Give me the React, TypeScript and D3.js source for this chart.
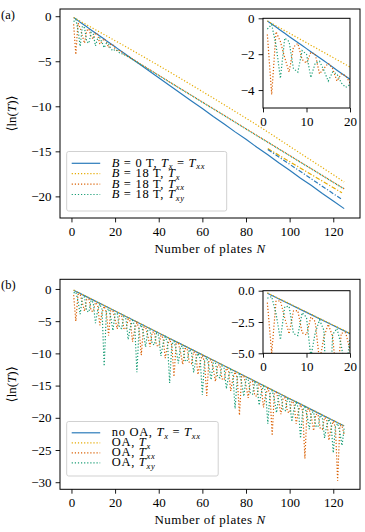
import React, { useEffect, useRef } from "react";
import * as d3 from "d3";

type Seg = { t: string; it?: boolean; sub?: boolean };
type Line = { xs: number[]; ys: number[]; color: string; dash?: string };

// ---- panel (a): B = 0 T against B = 18 T ----
const platesA = [
  1, 2, 3, 4, 5, 6, 7, 8, 9, 10, 11, 12, 13, 14, 15, 16, 17, 18, 19, 20,
  21, 22, 23, 24, 25, 26, 27, 28, 29, 30, 35, 40, 45, 50, 55, 60, 65, 70,
  75, 80, 85, 90, 95, 100, 105, 110, 115, 120, 125,
];
const b0A = [
  -0.15, -0.32, -0.49, -0.66, -0.83, -1.01, -1.18, -1.35, -1.52, -1.69,
  -1.86, -2.03, -2.2, -2.37, -2.54, -2.72, -2.89, -3.06, -3.23, -3.4,
  -3.57, -3.74, -3.91, -4.08, -4.25, -4.43, -4.6, -4.77, -4.94, -5.11,
  -5.97, -6.84, -7.68, -8.55, -9.41, -10.24, -11.13, -11.96, -12.84, -13.67,
  -14.55, -15.38, -16.27, -17.09, -17.98, -18.8, -19.69, -20.51, -21.36,
];
const b18TxA = [
  -0.15, -0.28, -0.42, -0.55, -0.69, -0.82, -0.96, -1.09, -1.23, -1.36,
  -1.5, -1.63, -1.77, -1.9, -2.04, -2.17, -2.31, -2.44, -2.58, -2.72,
  -2.85, -2.99, -3.12, -3.26, -3.4, -3.53, -3.67, -3.81, -3.95, -4.08,
  -4.78, -5.48, -6.19, -6.91, -7.63, -8.36, -9.09, -9.83, -10.57, -11.32,
  -12.08, -12.85, -13.64, -14.44, -15.23, -16.02, -16.8, -17.6, -18.4,
];
const b18TxxA = [
  -0.9, -4.25, -0.75, -1.3, -2.2, -3.0, -1.6, -1.4, -2.3, -2.5,
  -1.9, -2.0, -3.1, -2.8, -2.5, -2.8, -3.5, -3.1, -3.2, -3.6,
  -3.9, -3.8, -3.95, -4.2, -4.35, -4.45, -4.6, -4.75, -4.9, -5.05,
  -5.8, -6.55, -7.3, -8.05, -8.78, -9.52, -10.27, -11.0, -11.75, -12.5,
  -13.23, -13.97, -14.72, -15.45, -16.2, -16.93, -17.68, -18.42, -19.15,
];
const b18TxyA = [
  -0.6, -0.35, -1.5, -3.35, -1.1, -1.3, -2.8, -3.0, -1.8, -2.0,
  -3.3, -2.5, -2.4, -2.9, -3.5, -3.0, -3.1, -3.6, -3.85, -3.7,
  -3.8, -4.05, -4.15, -4.25, -4.4, -4.5, -4.65, -4.8, -4.95, -5.1,
  -5.83, -6.57, -7.32, -8.06, -8.8, -9.55, -10.29, -11.03, -11.77, -12.52,
  -13.26, -14.0, -14.74, -15.48, -16.22, -16.96, -17.7, -18.44, -19.18,
];
// straight fits over the long-chain end
const fitPlatesA = [90, 124];
const fitB18A = [-14.7, -19.6];
const fitB0A = [-14.8, -20.35];

// ---- panel (b): without and with optical activity ----
const platesB = [
  1, 5, 10, 15, 20, 25, 30, 35, 40, 45, 50, 55, 60, 65, 70, 75, 80, 85, 90,
  95, 100, 105, 110, 115, 120, 125,
];
const noOaB = [
  -0.2, -0.88, -1.73, -2.58, -3.43, -4.28, -5.13, -5.98, -6.83, -7.68, -8.53,
  -9.38, -10.23, -11.08, -11.93, -12.78, -13.63, -14.48, -15.33, -16.18,
  -17.03, -17.88, -18.73, -19.58, -20.43, -21.28,
];
const oaTxB = [
  -0.17, -0.85, -1.7, -2.55, -3.4, -4.25, -5.1, -5.95, -6.8, -7.66, -8.51,
  -9.36, -10.21, -11.06, -11.91, -12.76, -13.61, -14.46, -15.31, -16.16,
  -17.01, -17.86, -18.71, -19.56, -20.41, -21.26,
];
// one value per plate, N = 1 ... 125
const oaTxxB = [
  -0.95, -5.0, -0.84, -0.81, -2.18, -3.45, -1.62, -1.59, -3.36, -3.53,
  -2.1, -2.47, -5.64, -3.71, -2.68, -3.65, -7.22, -3.39, -3.36, -4.73,
  -6.2, -4.17, -4.14, -6.11, -6.28, -4.65, -5.02, -8.19, -6.26, -5.23,
  -6.2, -10.27, -5.94, -5.91, -7.28, -8.95, -6.72, -6.69, -8.76, -8.93,
  -7.2, -7.57, -10.74, -8.81, -7.78, -8.75, -13.62, -8.49, -8.46, -9.83,
  -11.7, -9.27, -9.24, -11.41, -11.58, -9.75, -10.12, -13.29, -11.36, -10.33,
  -11.3, -16.6, -11.04, -11.01, -12.38, -14.35, -11.82, -11.79, -13.96, -14.13,
  -12.3, -12.67, -15.84, -13.91, -12.88, -13.85, -19.6, -13.59, -13.56, -14.93,
  -16.9, -14.37, -14.34, -16.51, -16.68, -14.85, -15.22, -18.39, -16.46, -15.43,
  -16.4, -22.77, -16.14, -16.11, -17.48, -19.45, -16.92, -16.89, -19.06, -19.23,
  -17.4, -17.77, -20.94, -19.01, -17.98, -18.95, -26.32, -18.69, -18.66, -20.03,
  -22.0, -19.47, -19.44, -21.61, -21.78, -19.95, -20.32, -23.49, -21.56, -20.53,
  -21.5, -29.77, -21.24, -21.21, -22.58,
];
const oaTxyB = [
  -0.6, -0.47, -1.84, -3.91, -1.28, -1.25, -3.42, -3.59, -1.76, -2.13,
  -5.3, -3.37, -2.34, -3.16, -11.98, -3.5, -3.02, -4.39, -6.46, -3.83,
  -3.8, -5.97, -6.14, -4.31, -4.68, -7.85, -5.92, -4.89, -5.71, -12.93,
  -6.05, -5.57, -6.94, -9.01, -6.38, -6.35, -8.52, -8.69, -6.86, -7.23,
  -10.4, -8.47, -7.44, -8.26, -14.58, -8.6, -8.12, -9.49, -11.56, -8.93,
  -8.9, -11.07, -11.24, -9.41, -9.78, -12.95, -11.02, -9.99, -10.81, -16.43,
  -11.15, -10.67, -12.04, -14.11, -11.48, -11.45, -13.62, -13.79, -11.96, -12.33,
  -15.5, -13.57, -12.54, -13.36, -18.58, -13.7, -13.22, -14.59, -16.66, -14.03,
  -14.0, -16.17, -16.34, -14.51, -14.88, -18.05, -16.12, -15.09, -15.91, -20.93,
  -16.25, -15.77, -17.14, -19.21, -16.58, -16.55, -18.72, -18.89, -17.06, -17.43,
  -20.6, -18.67, -17.64, -18.46, -23.18, -18.8, -18.32, -19.69, -21.76, -19.13,
  -19.1, -21.27, -21.44, -19.61, -19.98, -23.15, -21.22, -20.19, -21.01, -25.43,
  -21.35, -20.87, -22.24, -24.31, -21.68,
];
const platesPerStep = oaTxxB.map((_, i) => i + 1);

const xTicks = [0, 20, 40, 60, 80, 100, 120];
const yTicksA = [0, -5, -10, -15, -20];
const yTicksB = [0, -5, -10, -15, -20, -25, -30];
const insetXTicks = [0, 10, 20];
const insetYTicksA = [0, -2, -4];
const insetYTicksB = [0, -2.5, -5];

const legendA: Seg[][] = [
  [{ t: "B", it: true }, { t: " = 0 T, " }, { t: "T", it: true }, { t: "x", it: true, sub: true }, { t: " = " }, { t: "T", it: true }, { t: "xx", it: true, sub: true }],
  [{ t: "B", it: true }, { t: " = 18 T, " }, { t: "T", it: true }, { t: "x", it: true, sub: true }],
  [{ t: "B", it: true }, { t: " = 18 T, " }, { t: "T", it: true }, { t: "xx", it: true, sub: true }],
  [{ t: "B", it: true }, { t: " = 18 T, " }, { t: "T", it: true }, { t: "xy", it: true, sub: true }],
];
const legendB: Seg[][] = [
  [{ t: "no OA, " }, { t: "T", it: true }, { t: "x", it: true, sub: true }, { t: " = " }, { t: "T", it: true }, { t: "xx", it: true, sub: true }],
  [{ t: "OA, " }, { t: "T", it: true }, { t: "x", it: true, sub: true }],
  [{ t: "OA, " }, { t: "T", it: true }, { t: "xx", it: true, sub: true }],
  [{ t: "OA, " }, { t: "T", it: true }, { t: "xy", it: true, sub: true }],
];

const BLUE = "#2b7bba";
const YELLOW = "#e6ab02";
const ORANGE = "#d95f02";
const TEAL = "#1b9e77";
const DOT = "1.2 1.9";
const DASHDOT = "4.5 1.8 1.2 1.8";
const FONT = "'Liberation Serif', 'DejaVu Serif', serif";
const FS = 13;
const LEGEND_FS = 12.5;

type Sel = d3.Selection<SVGGElement, unknown, null, undefined>;

// text with italic pieces and lowered subscripts
function rich(text: d3.Selection<SVGTextElement, unknown, null, undefined>, segs: Seg[], fs: number) {
  const shift = fs * 0.2;
  let low = false;
  segs.forEach((s) => {
    const ts = text.append("tspan").text(s.t);
    if (s.it) ts.attr("font-style", "italic");
    if (s.sub) {
      ts.attr("font-size", fs * 0.68);
      if (!low) ts.attr("dy", shift);
      low = true;
    } else if (low) {
      ts.attr("dy", -shift);
      low = false;
    }
  });
}

function styleAxis(ax: Sel) {
  ax.select(".domain").remove();
  ax.attr("font-family", FONT).attr("font-size", FS);
  ax.selectAll("line").attr("stroke", "#000").attr("stroke-width", 0.9);
}

interface PanelOpts {
  id: string;
  tag: string;
  top: number;
  bottom: number;
  yDomain: [number, number];
  yTicks: number[];
  lines: Line[];
  fits: Line[];
  legend: Seg[][];
  legendBox: [number, number, number, number];
  legendRows: number[];
  inset: { top: number; bottom: number; ticks: number[]; fmt: string };
}

function drawPanel(root: Sel, o: PanelOpts) {
  const left = 60;
  const right = 360;
  const x = d3.scaleLinear().domain([-5.25, 132.25]).range([left, right]);
  const y = d3.scaleLinear().domain(o.yDomain).range([o.bottom, o.top]);

  const drawLines = (g: Sel, lines: Line[], xs: d3.ScaleLinear<number, number>, ys: d3.ScaleLinear<number, number>) => {
    const path = d3
      .line<[number, number]>()
      .x((d) => xs(d[0]))
      .y((d) => ys(d[1]));
    lines.forEach((l) => {
      g.append("path")
        .datum(d3.zip(l.xs, l.ys) as [number, number][])
        .attr("d", path)
        .attr("fill", "none")
        .attr("stroke", l.color)
        .attr("stroke-width", 1.2)
        .attr("stroke-dasharray", l.dash ?? null);
    });
  };

  const defs = root.append("defs");
  defs
    .append("clipPath")
    .attr("id", `${o.id}-main`)
    .append("rect")
    .attr("x", left)
    .attr("y", o.top)
    .attr("width", right - left)
    .attr("height", o.bottom - o.top);

  const main = root.append("g").attr("clip-path", `url(#${o.id}-main)`);
  drawLines(main, o.lines, x, y);
  drawLines(main, o.fits, x, y);

  // legend
  const [lx, ly, lw, lh] = o.legendBox;
  root
    .append("rect")
    .attr("x", lx)
    .attr("y", ly)
    .attr("width", lw)
    .attr("height", lh)
    .attr("rx", 2)
    .attr("fill", "#fff")
    .attr("fill-opacity", 0.8)
    .attr("stroke", "#cccccc")
    .attr("stroke-width", 0.9);
  o.legend.forEach((segs, i) => {
    const ry = o.legendRows[i];
    const l = o.lines[i];
    root
      .append("line")
      .attr("x1", lx + 5)
      .attr("x2", lx + 33.5)
      .attr("y1", ry)
      .attr("y2", ry)
      .attr("stroke", l.color)
      .attr("stroke-width", 1.2)
      .attr("stroke-dasharray", l.dash ?? null);
    const t = root
      .append("text")
      .attr("x", lx + 45)
      .attr("y", ry + 3.6)
      .attr("font-family", FONT)
      .attr("font-size", LEGEND_FS)
      .attr("letter-spacing", 0.7)
      .style("white-space", "pre");
    rich(t, segs, LEGEND_FS);
  });

  // inset: first twenty plates
  const ix = d3.scaleLinear().domain([0, 20]).range([263, 350]);
  const iy = d3.scaleLinear().domain([-5, 0]).range([o.inset.bottom, o.inset.top]);
  root
    .append("rect")
    .attr("x", 263)
    .attr("y", o.inset.top)
    .attr("width", 87)
    .attr("height", o.inset.bottom - o.inset.top)
    .attr("fill", "#fff");
  defs
    .append("clipPath")
    .attr("id", `${o.id}-inset`)
    .append("rect")
    .attr("x", 263)
    .attr("y", o.inset.top)
    .attr("width", 87)
    .attr("height", o.inset.bottom - o.inset.top);
  const ins = root.append("g").attr("clip-path", `url(#${o.id}-inset)`);
  drawLines(ins, o.lines, ix, iy);
  root
    .append("rect")
    .attr("x", 263)
    .attr("y", o.inset.top)
    .attr("width", 87)
    .attr("height", o.inset.bottom - o.inset.top)
    .attr("fill", "none")
    .attr("stroke", "#000")
    .attr("stroke-width", 1);
  const iax = root
    .append("g")
    .attr("transform", `translate(0,${o.inset.bottom})`)
    .call(d3.axisBottom(ix).tickValues(insetXTicks).tickSize(4.4).tickPadding(4).tickFormat(d3.format("d")));
  styleAxis(iax);
  const iay = root
    .append("g")
    .attr("transform", "translate(263,0)")
    .call(d3.axisLeft(iy).tickValues(o.inset.ticks).tickSize(4.4).tickPadding(4).tickFormat(d3.format(o.inset.fmt)));
  styleAxis(iay);

  // frame and axes
  root
    .append("rect")
    .attr("x", left)
    .attr("y", o.top)
    .attr("width", right - left)
    .attr("height", o.bottom - o.top)
    .attr("fill", "none")
    .attr("stroke", "#000")
    .attr("stroke-width", 1);
  const ax = root
    .append("g")
    .attr("transform", `translate(0,${o.bottom})`)
    .call(d3.axisBottom(x).tickValues(xTicks).tickSize(4.4).tickPadding(4).tickFormat(d3.format("d")));
  styleAxis(ax);
  const ay = root
    .append("g")
    .attr("transform", `translate(${left},0)`)
    .call(d3.axisLeft(y).tickValues(o.yTicks).tickSize(4.4).tickPadding(4).tickFormat(d3.format("d")));
  styleAxis(ay);

  const xl = root
    .append("text")
    .attr("x", (left + right) / 2)
    .attr("y", o.bottom + 35)
    .attr("text-anchor", "middle")
    .attr("font-family", FONT)
    .attr("font-size", 13)
    .attr("letter-spacing", 0.5)
    .style("white-space", "pre");
  rich(xl, [{ t: "Number of plates " }, { t: "N", it: true }], 13);

  const yl = root
    .append("text")
    .attr("transform", `translate(16,${(o.top + o.bottom) / 2}) rotate(-90)`)
    .attr("text-anchor", "middle")
    .attr("font-family", FONT)
    .attr("font-size", 13)
    .style("white-space", "pre");
  rich(yl, [{ t: "⟨ln(" }, { t: "T", it: true }, { t: ")⟩" }], 13);

  root
    .append("text")
    .attr("x", 1)
    .attr("y", o.top + 10)
    .attr("font-family", FONT)
    .attr("font-size", 12.5)
    .text(o.tag);
}

const App: React.FC = () => {
  const svgRef = useRef<SVGSVGElement>(null);

  useEffect(() => {
    if (!svgRef.current) return;
    const svg = d3.select(svgRef.current);
    svg.selectAll("*").remove();

    drawPanel(svg.append("g"), {
      id: "pa",
      tag: "(a)",
      top: 9,
      bottom: 218,
      yDomain: [-22.4, 0.8],
      yTicks: yTicksA,
      lines: [
        { xs: platesA, ys: b0A, color: BLUE },
        { xs: platesA, ys: b18TxA, color: YELLOW, dash: DOT },
        { xs: platesA, ys: b18TxxA, color: ORANGE, dash: DOT },
        { xs: platesA, ys: b18TxyA, color: TEAL, dash: DOT },
      ],
      fits: [
        { xs: fitPlatesA, ys: fitB18A, color: YELLOW, dash: DASHDOT },
        { xs: fitPlatesA, ys: fitB0A, color: BLUE, dash: DASHDOT },
      ],
      legend: legendA,
      legendBox: [66.7, 151.5, 160, 59.5],
      legendRows: [163.3, 173.7, 184.1, 194.5],
      inset: { top: 18.3, bottom: 108, ticks: insetYTicksA, fmt: "d" },
    });

    drawPanel(svg.append("g"), {
      id: "pb",
      tag: "(b)",
      top: 279.3,
      bottom: 489.3,
      yDomain: [-31.1, 1.5],
      yTicks: yTicksB,
      lines: [
        { xs: platesB, ys: noOaB, color: BLUE },
        { xs: platesB, ys: oaTxB, color: YELLOW, dash: DOT },
        { xs: platesPerStep, ys: oaTxxB, color: ORANGE, dash: DOT },
        { xs: platesPerStep, ys: oaTxyB, color: TEAL, dash: DOT },
      ],
      fits: [],
      legend: legendB,
      legendBox: [66.7, 421.5, 151.5, 54.5],
      legendRows: [432.8, 442.8, 452.8, 462.8],
      inset: { top: 290.7, bottom: 353.3, ticks: insetYTicksB, fmt: ".1f" },
    });
  }, []);

  return (
    <svg
      ref={svgRef}
      width={365}
      height={532}
      style={{ position: "absolute", left: 0, top: 0, background: "#fff" }}
    />
  );
};

export default App;
